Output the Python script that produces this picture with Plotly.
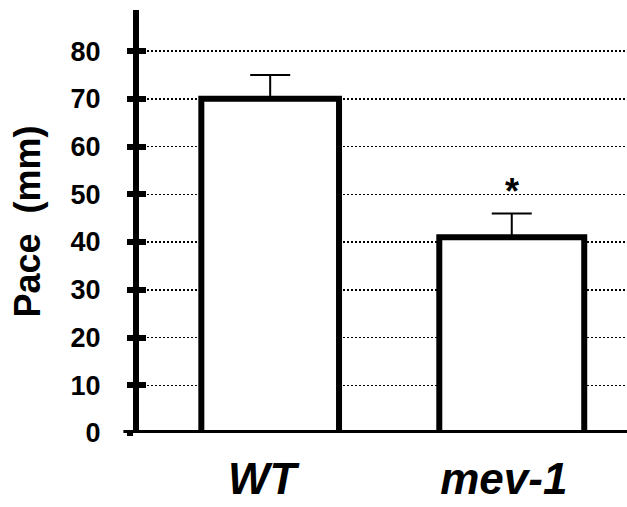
import plotly.graph_objects as go

categories = ["WT", "mev-1"]
pace_mean = [70, 41]
pace_err = [5, 5]
tick_vals = [0, 10, 20, 30, 40, 50, 60, 70, 80]
tick_text = ["0", "10", "20", "30", "40", "50", "60", "70", "80"]
significance = ["", "*"]

FONT = "Liberation Sans, Arial, sans-serif"

fig = go.Figure()
fig.add_trace(go.Bar(
    x=categories, y=pace_mean, width=[0.57, 0.6],
    marker=dict(color="white", line=dict(color="black", width=6)),
    error_y=dict(type="data", symmetric=False, array=pace_err,
                 arrayminus=[0, 0], color="black", thickness=2, width=20),
    showlegend=False, hoverinfo="skip",
))
# invisible trace for the overlay axis that draws the inside tick stubs
fig.add_trace(go.Scatter(x=categories, y=pace_mean, yaxis="y2", mode="none",
                         showlegend=False, hoverinfo="skip"))

for c, m, e, s in zip(categories, pace_mean, pace_err, significance):
    if s:
        fig.add_annotation(x=c, y=m + e, text="<b>" + s + "</b>", showarrow=False,
                           yanchor="bottom", yshift=-1,
                           font=dict(family=FONT, size=36, color="black"))

yrange = [0, 88.6]
fig.update_layout(
    width=627, height=507,
    margin=dict(l=139, r=0, t=10, b=74, autoexpand=False),
    paper_bgcolor="white", plot_bgcolor="white",
    font=dict(family=FONT, color="black"),
    xaxis=dict(range=[-0.543, 1.477], showline=False, showgrid=False,
               zeroline=False, ticks="", ticklabelstandoff=16, automargin=False,
               ticklabelshift=-8,
               tickfont=dict(size=44, family=FONT),
               tickvals=categories,
               ticktext=["<b><i>" + c + "</i></b>" for c in categories]),
    yaxis=dict(range=yrange, showline=True, linewidth=6, linecolor="black",
               showgrid=True, gridcolor="black", gridwidth=1.5, griddash="2px,2px",
               zeroline=False, ticks="outside", ticklen=6, tickwidth=6,
               tickcolor="black", tickvals=tick_vals, automargin=False,
               ticktext=["<b>" + t + "</b>" for t in tick_text],
               tickfont=dict(size=27, family=FONT), ticklabelstandoff=21,
               title=dict(text="<b>Pace  (mm)</b>", font=dict(size=36, family=FONT),
                          standoff=21)),
    yaxis2=dict(range=yrange, overlaying="y", side="left", anchor="x",
                showline=False, showgrid=False, zeroline=False, automargin=False,
                ticks="inside", ticklen=7, tickwidth=6, tickcolor="black",
                tickvals=tick_vals[1:], showticklabels=False),
    shapes=[dict(type="line", xref="paper", yref="y", x0=-0.032, x1=1,
                 y0=0, y1=0, line=dict(color="black", width=6), layer="above")],
)

fig.write_html("out.html", config={"displayModeBar": False, "staticPlot": True},
               post_script="document.body.style.margin='0';"
                           "document.body.style.overflow='hidden';")
